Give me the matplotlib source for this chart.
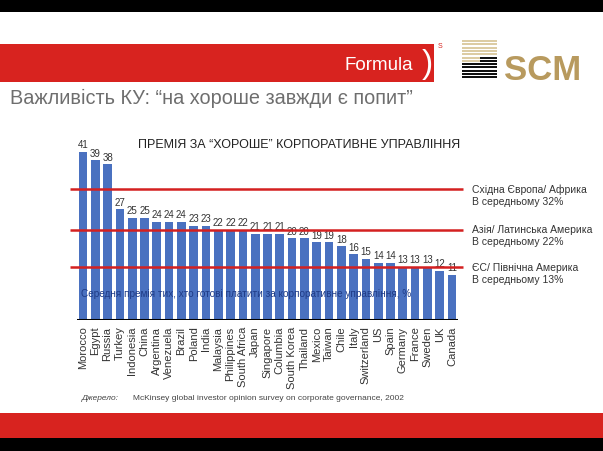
import matplotlib.pyplot as plt
from matplotlib.patches import Rectangle

plt.rcParams['font.family'] = ['Liberation Sans', 'DejaVu Sans']

countries = ["Morocco", "Egypt", "Russia", "Turkey", "Indonesia", "China",
             "Argentina", "Venezuela", "Brazil", "Poland", "India", "Malaysia",
             "Philippines", "South Africa", "Japan", "Singapore", "Columbia",
             "South Korea", "Thailand", "Mexico", "Taiwan", "Chile", "Italy",
             "Switzerland", "US", "Spain", "Germany", "France", "Sweden", "UK",
             "Canada"]
premium = [41, 39, 38, 27, 25, 25, 24, 24, 24, 23, 23, 22, 22, 22, 21, 21, 21,
           20, 20, 19, 19, 18, 16, 15, 14, 14, 13, 13, 13, 12, 11]
region_avg = [32, 22, 13]
region_names = ["Східна Європа/ Африка", "Азія/ Латинська Америка",
                "ЄС/ Північна Америка"]

W, H = 603, 452
fig = plt.figure(figsize=(W / 100, H / 100), dpi=100)


def px_rect(x0, y0, x1, y1, color):
    # rectangle given in pixel coords from top-left
    fig.patches.append(Rectangle((x0 / W, 1 - y1 / H), (x1 - x0) / W, (y1 - y0) / H,
                                 transform=fig.transFigure, color=color, lw=0))


def px_text(x, y, s, **kw):
    fig.text(x / W, 1 - y / H, s, **kw)


# header / footer bands
px_rect(0, 0, W, 13, "black")
px_rect(0, 45, 434, 83, "#d8231f")
px_text(413, 65, "Formula", color="white", fontsize=13.5, ha="right", va="center")
px_text(427, 64, ")", color="white", fontsize=24, ha="center", va="center")
px_text(440, 47, "S", color="#d8231f", fontsize=5, ha="center", va="center")
px_rect(0, 414, W, 439, "#d8231f")
px_rect(0, 439, W, H, "black")

# SCM logo
for i in range(12):
    y = 41 + i * 3.3
    if i < 5:
        px_rect(462, y, 497, y + 2.0, "#dccca4")
    elif i < 7:
        px_rect(462, y, 480, y + 2.0, "#dccca4")
        px_rect(480, y, 497, y + 2.0, "#111111")
    else:
        px_rect(462, y, 497, y + 2.0, "#111111")
px_text(504, 70, "SCM", color="#b89a5e", fontsize=25, fontweight="bold",
        ha="left", va="center")

px_text(10, 98, "Важливість КУ: “на хороше завжди є попит”", color="#6e6e6e",
        fontsize=14.3, ha="left", va="center")

# chart axes: bar centres from x=83 to 452 px, baseline at y=321 px
left = (83 - 6.15) / W
width = (452 - 83 + 12.3) / W
bottom = (H - 321) / H
top_val = 45
height = top_val * 4.1 / H
ax = fig.add_axes([left, bottom, width, height])

x = list(range(len(countries)))
ax.bar(x, premium, width=0.7, color="#4a71c0", zorder=2)
for xi, v in zip(x, premium):
    ax.text(xi, v + 0.6, str(v), ha="center", va="bottom", fontsize=7,
            color="#333333")

ax.hlines(region_avg, -1.06, 30.9, colors="#d42020", lw=1.8, zorder=3,
          clip_on=False)
ax.axhline(0, color="black", lw=2.2, zorder=4)

ax.set_xlim(-0.5, len(countries) - 0.5)
ax.set_ylim(0, top_val)
ax.set_xticks(x)
ax.set_xticklabels(countries, rotation=90, fontsize=8, color="#333333")
ax.tick_params(axis="x", length=0, pad=4)
ax.set_yticks([])
for s in ax.spines.values():
    s.set_visible(False)
ax.patch.set_alpha(0)

ax.text(-0.2, 6.6, "Середня премія тих, хто готові платити за корпоративне управління, %",
        fontsize=7.2, color="#1f3b86", ha="left", va="center", zorder=5)

px_text(299, 145, "ПРЕМІЯ ЗА “ХОРОШЕ” КОРПОРАТИВНЕ УПРАВЛІННЯ", fontsize=9,
        color="#222222", ha="center", va="center")

label_y = [190, 230, 268]
for y, name, avg in zip(label_y, region_names, region_avg):
    px_text(472, y, name, fontsize=7.5, color="#333333", ha="left", va="center")
    px_text(472, y + 12, "В середньому %d%%" % avg, fontsize=7.5,
            color="#333333", ha="left", va="center")

px_text(82, 399, "Джерело:", fontsize=6, color="#444444", ha="left", va="center",
        style="italic")
px_text(133, 399, "McKinsey global investor opinion survey on corporate governance, 2002",
        fontsize=6, color="#444444", ha="left", va="center")

fig.savefig("out.png", dpi=100)
